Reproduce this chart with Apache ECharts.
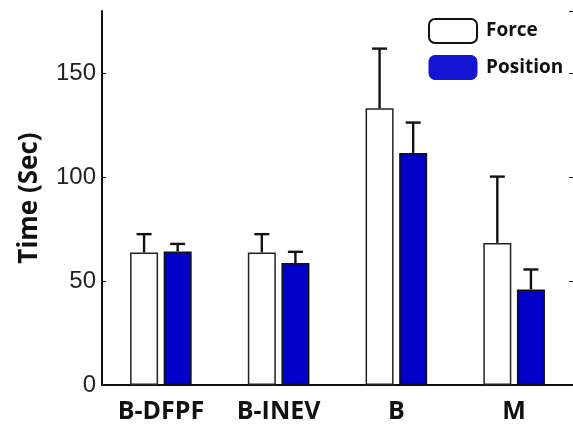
<!DOCTYPE html>
<html>
<head>
<meta charset="utf-8">
<script src="https://cdn.jsdelivr.net/npm/echarts@6/dist/echarts.min.js"></script>
<style>
  html, body { margin: 0; padding: 0; background: #fff; }
  #chart { width: 573px; height: 424px; }
</style>
</head>
<body>
<div id="chart"></div>
<script>
// values
const categories = ['B-DFPF', 'B-INEV', 'B', 'M']
const forceMean = [63.8, 63.8, 133.2, 68.4]
const forceSd = [8.8, 8.8, 28.7, 31.9]
const positionMean = [64.3, 58.7, 111.7, 46.0]
const positionSd = [3.6, 5.4, 14.6, 9.6]
const yTicks = [0, 50, 100, 150]

const barWidth = 28
const barGapPx = 5.6
const halfStep = (barWidth + barGapPx) / 2
const blue = '#0000c8'
const boldFont = 'Open Sans'

function errorSeries(name, means, sds, offset) {
  return {
    name: name + ' sd',
    type: 'custom',
    z: 3,
    data: means.map((m, i) => [i, m, sds[i]]),
    renderItem(params, api) {
      const i = api.value(0)
      const m = api.value(1)
      const base = api.coord([i, m])
      const top = api.coord([i, m + api.value(2)])
      const x = base[0] + offset
      const style = { stroke: '#111', lineWidth: 2.4 }
      return {
        type: 'group',
        children: [
          { type: 'line', shape: { x1: x, y1: base[1], x2: x, y2: top[1] }, style },
          { type: 'line', shape: { x1: x - 7.5, y1: top[1], x2: x + 7.5, y2: top[1] }, style }
        ]
      }
    }
  }
}

const chart = echarts.init(document.getElementById('chart'))

chart.setOption({
  animation: false,
  grid: { left: 102, right: 0, top: 11, bottom: 39 },
  legend: {
    orient: 'vertical',
    left: 423,
    top: 13,
    itemWidth: 48,
    itemHeight: 24,
    itemGap: 11,
    icon: 'roundRect',
    textStyle: { fontFamily: boldFont, fontWeight: 'bold', fontSize: 19, color: '#111', padding: [0, 0, 0, 4] },
    data: [
      { name: 'Force', itemStyle: { color: '#fff', borderColor: '#111', borderWidth: 2 } },
      { name: 'Position', itemStyle: { color: '#1414d4', borderColor: '#1414d4', borderWidth: 1 } }
    ]
  },
  xAxis: [{
    type: 'category',
    data: categories,
    axisLine: { lineStyle: { color: '#111', width: 2 } },
    axisTick: { inside: true, alignWithLabel: true, length: 3, lineStyle: { color: '#111' } },
    axisLabel: { fontFamily: boldFont, fontWeight: 'bold', fontSize: 25, color: '#111', margin: 14 }
  }, {
    type: 'category',
    data: categories,
    position: 'top',
    axisLine: { lineStyle: { color: '#111', width: 1.5 } },
    axisTick: { inside: true, alignWithLabel: true, length: 4, lineStyle: { color: '#111' } },
    axisLabel: { show: false }
  }],
  yAxis: [{
    type: 'value',
    min: 0,
    max: 180,
    interval: 50,
    name: 'Time (Sec)',
    nameLocation: 'middle',
    nameGap: 59,
    nameTextStyle: { fontFamily: boldFont, fontWeight: 'bold', fontSize: 26, color: '#111' },
    axisLine: { show: true, lineStyle: { color: '#111', width: 2 } },
    axisTick: { show: true, inside: true, length: 4, lineStyle: { color: '#111' } },
    axisLabel: {
      fontFamily: 'Liberation Sans',
      fontSize: 24,
      color: '#222',
      margin: 6,
      showMaxLabel: false,
      formatter: v => (yTicks.includes(v) ? String(v) : '')
    },
    splitLine: { show: false }
  }, {
    type: 'value',
    min: 0,
    max: 180,
    interval: 50,
    position: 'right',
    axisLine: { show: false },
    axisTick: { show: true, inside: true, length: 4, lineStyle: { color: '#111' } },
    axisLabel: { show: false },
    splitLine: { show: false }
  }],
  series: [{
    name: 'Force',
    type: 'bar',
    data: forceMean,
    barWidth: barWidth,
    barGap: (barGapPx / barWidth * 100) + '%',
    itemStyle: { color: '#fff', borderColor: '#222', borderWidth: 1.5 }
  }, {
    name: 'Position',
    type: 'bar',
    data: positionMean,
    barWidth: barWidth,
    itemStyle: { color: blue, borderColor: '#111', borderWidth: 1.5 }
  },
  errorSeries('Force', forceMean, forceSd, -halfStep),
  errorSeries('Position', positionMean, positionSd, halfStep)
  ]
})
</script>
</body>
</html>
